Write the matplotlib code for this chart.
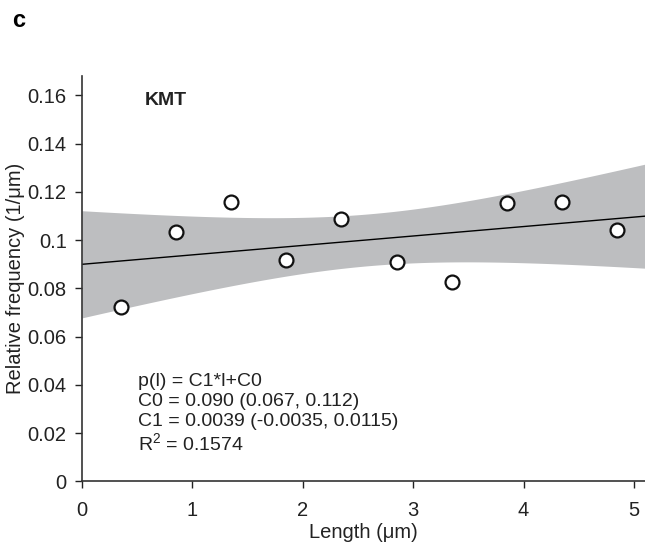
import numpy as np
import matplotlib
matplotlib.use("Agg")
import matplotlib.pyplot as plt

plt.rcParams['font.family'] = ['Liberation Sans', 'DejaVu Sans']
plt.rcParams['mathtext.fontset'] = 'custom'
plt.rcParams['mathtext.rm'] = 'Liberation Sans'

# binned lengths (um) and relative frequency (1/um)
length = np.array([0.35, 0.85, 1.35, 1.85, 2.35, 2.85, 3.35, 3.85, 4.35, 4.85])
freq = np.array([0.0725, 0.1035, 0.1160, 0.0920, 0.1088, 0.0910, 0.0826, 0.1153, 0.1158, 0.1043])

fit_lines = ["p(l) = C1*l+C0",
             "C0 = 0.090 (0.067, 0.112)",
             "C1 = 0.0039 (-0.0035, 0.0115)",
             "R$^2$ = 0.1574"]
xticks = [0, 1, 2, 3, 4, 5]
yticks = [0, 0.02, 0.04, 0.06, 0.08, 0.1, 0.12, 0.14, 0.16]
ytick_labels = ['0', '0.02', '0.04', '0.06', '0.08', '0.1', '0.12', '0.14', '0.16']

# linear fit with 95% confidence band of the mean
C1, C0 = np.polyfit(length, freq, 1)
n = length.size
resid = freq - (C1 * length + C0)
s = np.sqrt(np.sum(resid ** 2) / (n - 2))
t_val = 2.306  # t(0.975, df=8)
sxx = np.sum((length - length.mean()) ** 2)
X = np.linspace(0, 5.1, 200)
Y = C1 * X + C0
half = t_val * s * np.sqrt(1.0 / n + (X - length.mean()) ** 2 / sxx)

fig = plt.figure(figsize=(6.45, 5.44), dpi=100)
ax = fig.add_axes([0.127, 0.115, 0.873, 0.745])

ax.fill_between(X, Y - half, Y + half, color='#bdbec0', linewidth=0, zorder=1)
ax.plot(X, Y, color='black', linewidth=1.0, zorder=2)
ax.plot(length, freq, 'o', markersize=10, markerfacecolor='white',
        markeredgecolor='#111111', markeredgewidth=1.6, zorder=3)

ax.set_xlim(0, 5.1)
ax.set_ylim(0, 0.168)
ax.set_xticks(xticks)
ax.set_yticks(yticks)
ax.set_yticklabels(ytick_labels)
ax.tick_params(direction='out', length=5, width=1, labelsize=14.5, colors='#222222')
ax.tick_params(axis='x', pad=9)
ax.tick_params(axis='y', pad=6)
for side in ['top', 'right']:
    ax.spines[side].set_visible(False)
for side in ['left', 'bottom']:
    ax.spines[side].set_color('#333333')
    ax.spines[side].set_linewidth(1.2)

ax.set_xlabel('Length (\u03bcm)', fontsize=14.5, color='#222222', labelpad=2)
ax.set_ylabel('Relative frequency (1/\u03bcm)', fontsize=14.5, color='#222222', labelpad=2)

ax.text(0.57, 0.1559, 'KMT', fontsize=14, fontweight='bold', va='baseline', color='#222222')
ys = [0.0395, 0.0313, 0.0230, 0.0126]
for txt, yy in zip(fit_lines, ys):
    ax.text(0.51, yy, txt, fontsize=14, va='baseline', color='#222222')

fig.text(12 / 645, 1 - 27 / 544, 'c', fontsize=17, fontweight='bold', va='baseline', ha='left')

fig.savefig('out.png', dpi=100)
